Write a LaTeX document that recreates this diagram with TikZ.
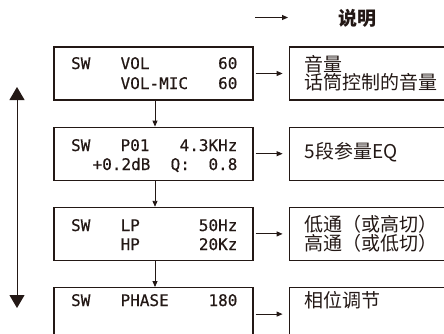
\documentclass[tikz,border=0pt]{standalone}
\usepackage{fontspec}
\setmonofont{DejaVu Sans Mono}[FakeBold=0.5]
\newfontfamily\cjk{Noto Sans CJK SC}
\usetikzlibrary{arrows.meta,positioning}
\definecolor{ink}{HTML}{231815}

\begin{document}
\begin{tikzpicture}[x=1pt,y=-1pt,line width=1.2pt,draw=ink,text=ink,inner sep=0pt]
    \tikzset{lcd/.style={draw,rectangle,minimum width=199pt,minimum height=53pt},
      note/.style={draw,rectangle,minimum width=172pt,minimum height=53pt},
      mono/.style={font=\ttfamily\fontsize{16}{18}\selectfont,anchor=base west},
      monor/.style={mono,anchor=base east},
      zh/.style={font=\cjk\fontsize{19}{18}\selectfont,align=left,anchor=west},
      link/.style={-{Triangle[length=6pt,width=5pt]},line width=0.9pt,shorten <=2pt,shorten >=6pt},
      updown/.style={{Triangle[length=13pt,width=15pt]}-{Triangle[length=13pt,width=15pt]},line width=1pt}}
    \useasboundingbox (0,0) rectangle (444,333);
    \clip (0,0) rectangle (444,333);
    % screens on the left
    \node[lcd] (vol) at (153.5,73.5) {};
    \node[lcd] (eq) [below = 26pt of vol] {};
    \node[lcd] (xo) [below = 26pt of eq] {};
    \node[lcd] (ph) [below = 26pt of xo] {};
    % notes on the right
    \node[note] (nvol) [right = 35pt of vol] {};
    \node[note] (neq) [right = 35pt of eq] {};
    \node[note] (nxo) [right = 35pt of xo] {};
    \node[note] (nph) [right = 35pt of ph] {};
    % key
    \coordinate (k0) at (255,17.5);
    \coordinate (k1) at (288,17.5);
    \node[font=\cjk\bfseries\fontsize{19}{18}\selectfont] (key) at (357,18) {说明};
    % screen texts
    \node[mono] (s1) at (70.5,69) {SW};
    \node[mono] (v1) at (120,69) {VOL};
    \node[monor] (v1n) at (238,69) {60};
    \node[mono] (v2) at (120,89) {VOL-MIC};
    \node[monor] (v2n) at (238,89) {60};
    \node[mono] (s2) at (70.5,151) {SW};
    \node[mono] (p1) at (120,151) {P01};
    \node[monor] (p1n) at (238,151) {4.3KHz};
    \node[mono] (p2) at (92,170) {+0.2dB};
    \node[mono] (q2) at (170,170) {Q:};
    \node[monor] (q2n) at (238,170) {0.8};
    \node[mono] (s3) at (70.5,231) {SW};
    \node[mono] (lp) at (120,231) {LP};
    \node[monor] (lpn) at (238,231) {50Hz};
    \node[mono] (hp) at (120,250) {HP};
    \node[monor] (hpn) at (238,250) {20Kz};
    \node[mono] (s4) at (70.5,306) {SW};
    \node[mono] (ph1) at (120,306) {PHASE};
    \node[monor] (ph1n) at (238,306) {180};
    % note texts
    \node[zh] (t1) at (304,73.5) {音量\\话筒控制的音量};
    \node[zh] (t2) at (304,152) {5段参量EQ};
    \node[zh] (t3) at (304,234) {低通（或高切）\\高通（或低切）};
    \node[zh] (t4) at (304,300.5) {相位调节};
    % up and down
    \coordinate (top) at (17,87);
    \coordinate (bot) at (17,308);
    \draw[updown] (top) -- (bot);
    \path[link]
    (k0) edge [shorten <=0pt,shorten >=0pt] (k1)
    (vol) edge (nvol)
    (eq) edge (neq)
    (xo) edge (nxo)
    (ph) edge (nph)
    ([xshift=1.5pt]vol.south) edge [shorten <=0pt,shorten >=0pt] ([xshift=1.5pt]eq.north)
    ([xshift=1.5pt]eq.south) edge [shorten <=0pt,shorten >=0pt] ([xshift=1.5pt]xo.north)
    ([xshift=1.5pt]xo.south) edge [shorten <=0pt,shorten >=0pt] ([xshift=1.5pt]ph.north)
    ;
\end{tikzpicture}
\end{document}
